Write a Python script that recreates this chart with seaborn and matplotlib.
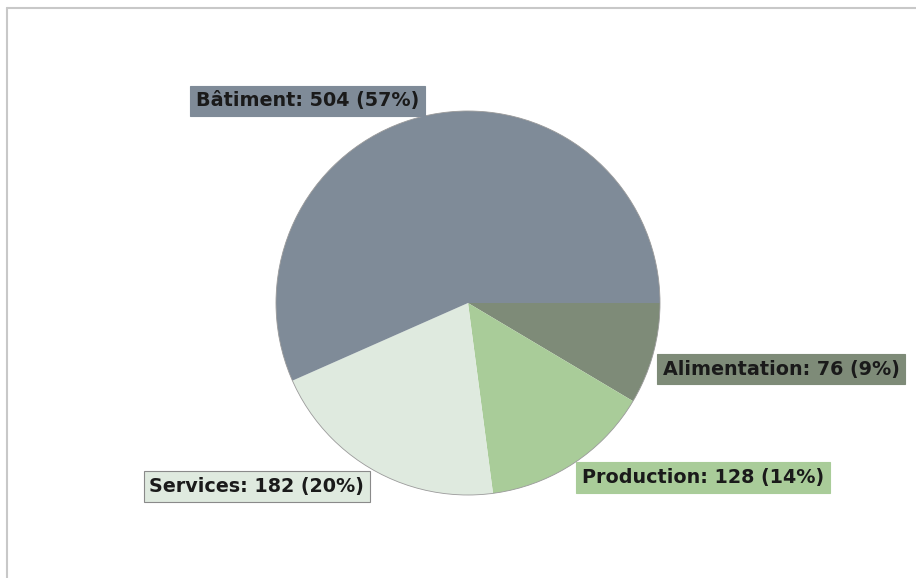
import matplotlib
matplotlib.use("Agg")
import matplotlib.pyplot as plt
from matplotlib.lines import Line2D
from matplotlib.patches import Circle
import seaborn as sns

# Data (clockwise from 3 o'clock)
sectors = ["Alimentation", "Production", "Services", "Bâtiment"]
counts = [76, 128, 182, 504]
colors = ["#7e8b78", "#a9cc99", "#dfeadf", "#7f8b98"]
edge_label = [False, False, True, False]

# label anchor spots, pie radius = 1
label_pos = {
    "Alimentation": (1.63, -0.345),
    "Production": (1.225, -0.91),
    "Services": (-1.10, -0.957),
    "Bâtiment": (-0.835, 1.053),
}

sns.set_theme(style="white")
plt.rcParams["font.family"] = ["DejaVu Sans"]

fig = plt.figure(figsize=(9.16, 5.78), dpi=100)
ax = fig.add_axes([0, 0, 1, 1])

wedges, _ = ax.pie(counts, colors=colors, startangle=0, counterclock=False,
                   radius=1.0, wedgeprops=dict(linewidth=0))
# faint outline on the pie rim
ax.add_patch(Circle((0, 0), 1.0, fill=False, edgecolor="#9a9a9a", linewidth=0.6))

total = sum(counts)
for name, val, col, border in zip(sectors, counts, colors, edge_label):
    pct = round(100 * val / total)
    x, y = label_pos[name]
    ax.text(x, y, f"{name}: {val} ({pct}%)", ha="center", va="center",
            fontsize=13.8, fontweight="bold", color="#1a1a1a",
            bbox=dict(boxstyle="square,pad=0.3", facecolor=col,
                      edgecolor="#8a8a8a" if border else col, linewidth=0.8))

ax.set_xlim(-468 / 192, (916 - 468) / 192)
ax.set_ylim(-(578 - 303) / 192, 303 / 192)
ax.set_aspect("equal")
ax.axis("off")

# light frame around the chart area
fig.add_artist(Line2D([7 / 916, 7 / 916], [0, 1 - 8 / 578], color="#c8c8c8", lw=1.5))
fig.add_artist(Line2D([7 / 916, 1], [1 - 8 / 578, 1 - 8 / 578], color="#c8c8c8", lw=1.5))

fig.savefig("out.png", dpi=100)
